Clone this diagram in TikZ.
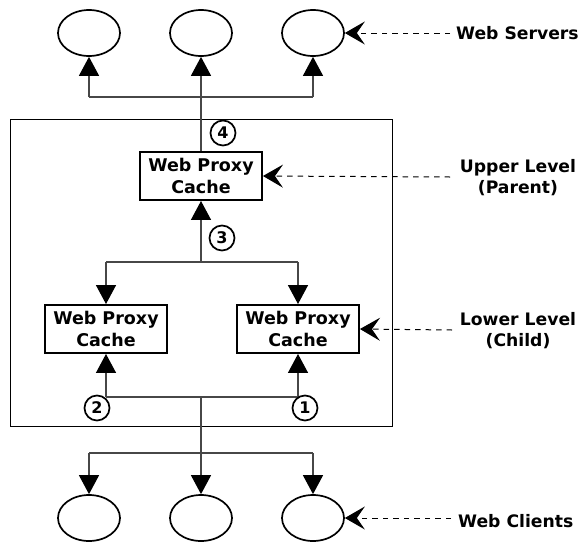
\documentclass[tikz,border=0pt]{standalone}
\usepackage{fontspec}
\setmainfont{DejaVu Sans}
\usetikzlibrary{shapes.geometric,arrows.meta}

\begin{document}
\begin{tikzpicture}[x=1pt,y=-1pt,
  host/.style={ellipse,draw,line width=1.7pt,minimum width=62pt,minimum height=46pt,inner sep=0pt},
  proxy/.style={draw,line width=1.9pt,minimum width=122pt,minimum height=48pt,inner sep=0pt,
    align=center,font=\bfseries\fontsize{17.5}{21.5}\selectfont},
  link/.style={draw=black!72,line width=1.3pt},
  tip/.style={-{Triangle[length=19pt,width=20pt,color=black]}},
  pointer/.style={dash pattern=on 5.5pt off 5pt,line width=1pt,
    -{Stealth[length=20pt,width=23pt,inset=8pt]}},
  num/.style={circle,draw,line width=1.7pt,minimum size=25pt,inner sep=0pt,
    font=\bfseries\fontsize{16}{16}\selectfont},
  caption/.style={inner sep=0pt,align=center,font=\bfseries\fontsize{17.2}{21}\selectfont}
]
\useasboundingbox (0,0) rectangle (581,541);

% enclosing frame of the proxy hierarchy
\node[draw,line width=1pt,minimum width=382pt,minimum height=307pt,inner sep=0pt] (frame) at (201,272.5) {};

% web servers
\node[host] (s1) at (89,33) {};
\node[host] (s2) at (201,33) {};
\node[host] (s3) at (313,33) {};

% web clients
\node[host] (c1) at (89,518) {};
\node[host] (c2) at (201,518) {};
\node[host] (c3) at (313,518) {};

% proxy caches
\node[proxy] (up)  at (201,176) {Web Proxy\\Cache};
\node[proxy] (lo1) at (106,329) {Web Proxy\\Cache};
\node[proxy] (lo2) at (298,329) {Web Proxy\\Cache};

% bus junctions
\coordinate (topbus) at (201,97);
\coordinate (midbus) at (201,262);
\coordinate (lowbus) at (201,397);
\coordinate (clientbus) at (201,453);

% parent to servers
\draw[link,tip] (up.north) -- (s2.south);
\draw[link] (s1 |- topbus) -- (s3 |- topbus);
\draw[link,tip] (s1 |- topbus) -- (s1.south);
\draw[link,tip] (s3 |- topbus) -- (s3.south);

% children to parent
\draw[link,tip] (midbus) -- (up.south);
\draw[link] (lo1 |- midbus) -- (lo2 |- midbus);
\draw[link,tip] (lo1 |- midbus) -- (lo1.north);
\draw[link,tip] (lo2 |- midbus) -- (lo2.north);

% clients to children
\draw[link] (lo1 |- lowbus) -- (lo2 |- lowbus);
\draw[link,tip] (lo1 |- lowbus) -- (lo1.south);
\draw[link,tip] (lo2 |- lowbus) -- (lo2.south);
\draw[link,tip] (lowbus) -- (c2.north);
\draw[link] (c1 |- clientbus) -- (c3 |- clientbus);
\draw[link,tip] (c1 |- clientbus) -- (c1.north);
\draw[link,tip] (c3 |- clientbus) -- (c3.north);

% request order
\node[num] (n4) at (223,133) {4};
\node[num] (n3) at (222,238) {3};
\node[num] (n2) at (97,408) {2};
\node[num] (n1) at (305,408) {1};

% level captions
\node[caption,anchor=west] (lws) at (456,33) {Web Servers};
\node[caption] (lul) at (518,178) {Upper Level\\(Parent)};
\node[caption] (lll) at (518,331) {Lower Level\\(Child)};
\node[caption,anchor=west] (lwc) at (458,521) {Web Clients};

\coordinate (pws) at (450,33);
\coordinate (pul) at (450,177);
\coordinate (pll) at (452,330);
\coordinate (pwc) at (451,518);
\draw[pointer] (pws) -- (s3.east);
\draw[pointer] (pul) -- (up.east);
\draw[pointer] (pll) -- (lo2.east);
\draw[pointer] (pwc) -- (c3.east);
\end{tikzpicture}
\end{document}
